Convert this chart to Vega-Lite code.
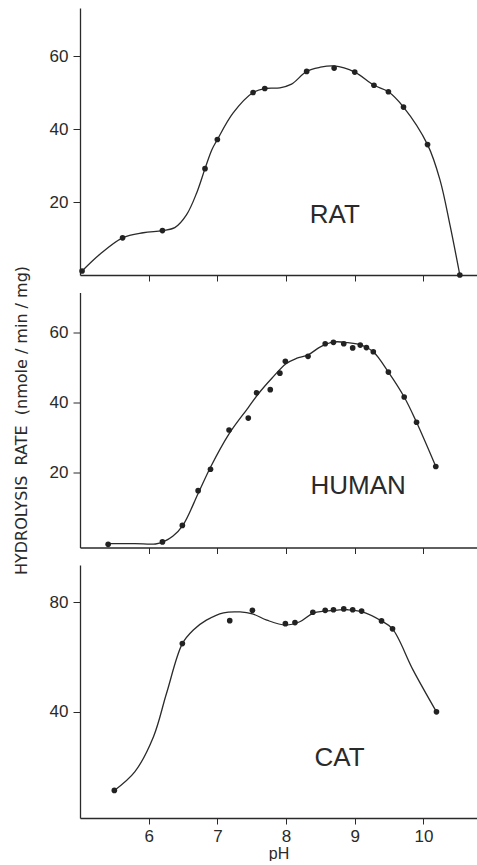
{
  "$schema": "https://vega.github.io/schema/vega-lite/v6.json",
  "padding": {"left": 12, "top": 8, "right": 0, "bottom": 0},
  "spacing": 17.5,
  "bounds": "flush",
  "config": {
    "view": {"stroke": null},
    "axis": {
      "grid": false,
      "domainColor": "#2a2a2a",
      "domainWidth": 1.3,
      "tickColor": "#2a2a2a",
      "tickWidth": 1,
      "labelFont": "Liberation Sans",
      "labelFontSize": 17,
      "labelColor": "#2a2a2a",
      "titleFont": "DejaVu Sans",
      "titleFontWeight": "normal",
      "titleColor": "#2a2a2a"
    }
  },
  "datasets": {
    "ratPts": [
      {"pH": 5.03, "rate": 1.1}, {"pH": 5.62, "rate": 10.2}, {"pH": 6.2, "rate": 12.2},
      {"pH": 6.82, "rate": 29.2}, {"pH": 7.0, "rate": 37.2}, {"pH": 7.52, "rate": 50.1},
      {"pH": 7.69, "rate": 51.2}, {"pH": 8.3, "rate": 55.9}, {"pH": 8.7, "rate": 56.8},
      {"pH": 9.0, "rate": 55.7}, {"pH": 9.28, "rate": 52.1}, {"pH": 9.49, "rate": 50.3},
      {"pH": 9.71, "rate": 46.1}, {"pH": 10.06, "rate": 35.8}, {"pH": 10.53, "rate": 0}
    ],
    "ratCurve": [
      {"pH": 5.03, "rate": 1.1}, {"pH": 5.29, "rate": 5.7}, {"pH": 5.62, "rate": 10.2},
      {"pH": 5.92, "rate": 11.6}, {"pH": 6.2, "rate": 12.2}, {"pH": 6.38, "rate": 13.0},
      {"pH": 6.55, "rate": 16.5}, {"pH": 6.7, "rate": 22.6}, {"pH": 6.82, "rate": 29.2},
      {"pH": 6.92, "rate": 34.4}, {"pH": 7.0, "rate": 37.2}, {"pH": 7.23, "rate": 44.5},
      {"pH": 7.52, "rate": 50.1}, {"pH": 7.69, "rate": 51.2}, {"pH": 7.91, "rate": 51.4},
      {"pH": 8.08, "rate": 52.4}, {"pH": 8.3, "rate": 55.9}, {"pH": 8.49, "rate": 57.0},
      {"pH": 8.7, "rate": 57.4}, {"pH": 9.0, "rate": 55.7}, {"pH": 9.28, "rate": 52.1},
      {"pH": 9.49, "rate": 50.3}, {"pH": 9.71, "rate": 46.1}, {"pH": 10.06, "rate": 35.8},
      {"pH": 10.24, "rate": 26.2}, {"pH": 10.39, "rate": 13.4}, {"pH": 10.53, "rate": 0}
    ],
    "humanPts": [
      {"pH": 5.41, "rate": -0.5}, {"pH": 6.2, "rate": 0.2}, {"pH": 6.49, "rate": 4.9},
      {"pH": 6.72, "rate": 14.8}, {"pH": 6.9, "rate": 20.9}, {"pH": 7.17, "rate": 32.1},
      {"pH": 7.45, "rate": 35.5}, {"pH": 7.57, "rate": 42.7}, {"pH": 7.77, "rate": 43.6},
      {"pH": 7.91, "rate": 48.3}, {"pH": 7.99, "rate": 51.7}, {"pH": 8.32, "rate": 53.1},
      {"pH": 8.57, "rate": 56.7}, {"pH": 8.69, "rate": 57.1}, {"pH": 8.84, "rate": 56.7},
      {"pH": 8.97, "rate": 55.5}, {"pH": 9.08, "rate": 56.3}, {"pH": 9.17, "rate": 55.6},
      {"pH": 9.27, "rate": 54.4}, {"pH": 9.49, "rate": 48.6}, {"pH": 9.72, "rate": 41.5},
      {"pH": 9.9, "rate": 34.3}, {"pH": 10.18, "rate": 21.7}
    ],
    "humanCurve": [
      {"pH": 5.41, "rate": -0.3}, {"pH": 5.8, "rate": -0.3}, {"pH": 6.1, "rate": -0.4},
      {"pH": 6.22, "rate": 0.3}, {"pH": 6.35, "rate": 1.8}, {"pH": 6.5, "rate": 5.0},
      {"pH": 6.72, "rate": 14.0}, {"pH": 6.9, "rate": 21.5}, {"pH": 7.17, "rate": 31.0},
      {"pH": 7.45, "rate": 38.5}, {"pH": 7.6, "rate": 42.5}, {"pH": 7.8, "rate": 47.0},
      {"pH": 8.0, "rate": 51.0}, {"pH": 8.15, "rate": 52.5}, {"pH": 8.32, "rate": 53.5},
      {"pH": 8.5, "rate": 55.8}, {"pH": 8.7, "rate": 57.2}, {"pH": 8.9, "rate": 57.0},
      {"pH": 9.1, "rate": 56.3}, {"pH": 9.27, "rate": 54.4}, {"pH": 9.49, "rate": 48.6},
      {"pH": 9.72, "rate": 41.5}, {"pH": 9.9, "rate": 34.3}, {"pH": 10.18, "rate": 21.7}
    ],
    "catPts": [
      {"pH": 5.5, "rate": 11.1}, {"pH": 6.49, "rate": 64.9}, {"pH": 7.18, "rate": 73.3},
      {"pH": 7.51, "rate": 77.1}, {"pH": 7.99, "rate": 72.2}, {"pH": 8.13, "rate": 72.6},
      {"pH": 8.39, "rate": 76.4}, {"pH": 8.57, "rate": 77.1}, {"pH": 8.69, "rate": 77.3},
      {"pH": 8.84, "rate": 77.6}, {"pH": 8.97, "rate": 77.3}, {"pH": 9.1, "rate": 76.8},
      {"pH": 9.39, "rate": 73.2}, {"pH": 9.55, "rate": 70.3}, {"pH": 10.19, "rate": 39.9}
    ],
    "catCurve": [
      {"pH": 5.5, "rate": 11.1}, {"pH": 5.8, "rate": 18.0}, {"pH": 6.07, "rate": 30.8},
      {"pH": 6.26, "rate": 46.7}, {"pH": 6.49, "rate": 64.9}, {"pH": 6.65, "rate": 69.9},
      {"pH": 6.84, "rate": 73.5}, {"pH": 7.09, "rate": 76.2}, {"pH": 7.33, "rate": 76.5},
      {"pH": 7.51, "rate": 75.8}, {"pH": 7.72, "rate": 73.5}, {"pH": 7.99, "rate": 71.7},
      {"pH": 8.2, "rate": 72.9}, {"pH": 8.39, "rate": 76.0}, {"pH": 8.57, "rate": 76.8},
      {"pH": 8.75, "rate": 77.2}, {"pH": 8.9, "rate": 77.3}, {"pH": 9.1, "rate": 76.6},
      {"pH": 9.39, "rate": 73.2}, {"pH": 9.55, "rate": 70.3}, {"pH": 9.85, "rate": 55.2},
      {"pH": 10.19, "rate": 39.9}
    ]
  },
  "vconcat": [
    {
      "width": 397,
      "height": 267,
      "layer": [
        {
          "data": {"name": "ratCurve"},
          "mark": {"type": "line", "interpolate": "catmull-rom", "color": "#2a2a2a", "strokeWidth": 1.3},
          "encoding": {
            "x": {"field": "pH", "type": "quantitative", "scale": {"domain": [5, 10.78], "nice": false, "zero": false},
                  "axis": {"values": [6, 7, 8, 9, 10], "labels": false, "title": null, "tickSize": 6}},
            "y": {"field": "rate", "type": "quantitative", "scale": {"domain": [0, 73.3], "nice": false, "zero": false},
                  "axis": {"values": [20, 40, 60], "title": null, "tickSize": 7, "labelPadding": 5, "minExtent": 34, "maxExtent": 34}}
          }
        },
        {
          "data": {"name": "ratPts"},
          "mark": {"type": "point", "filled": true, "color": "#222222", "size": 32, "opacity": 1},
          "encoding": {
            "x": {"field": "pH", "type": "quantitative"},
            "y": {"field": "rate", "type": "quantitative"}
          }
        },
        {
          "data": {"values": [{"label": "RAT"}]},
          "mark": {"type": "text", "font": "Liberation Sans", "fontSize": 26, "color": "#2a2a2a", "baseline": "middle", "align": "center"},
          "encoding": {
            "text": {"field": "label"},
            "x": {"datum": 8.71, "type": "quantitative"},
            "y": {"datum": 16.6, "type": "quantitative"}
          }
        }
      ]
    },
    {
      "width": 397,
      "height": 255,
      "layer": [
        {
          "data": {"name": "humanCurve"},
          "mark": {"type": "line", "interpolate": "catmull-rom", "color": "#2a2a2a", "strokeWidth": 1.3},
          "encoding": {
            "x": {"field": "pH", "type": "quantitative", "scale": {"domain": [5, 10.78], "nice": false, "zero": false},
                  "axis": {"values": [6, 7, 8, 9, 10], "labels": false, "title": null, "tickSize": 6}},
            "y": {"field": "rate", "type": "quantitative", "scale": {"domain": [-1.4, 71.3], "nice": false, "zero": false},
                  "axis": {"values": [20, 40, 60], "title": "HYDROLYSIS\u00a0\u00a0RATE\u00a0\u00a0(nmole / min / mg)", "titleFontSize": 16, "titlePadding": 17, "tickSize": 7, "labelPadding": 5, "minExtent": 34, "maxExtent": 34}}
          }
        },
        {
          "data": {"name": "humanPts"},
          "mark": {"type": "point", "filled": true, "color": "#222222", "size": 32, "opacity": 1},
          "encoding": {
            "x": {"field": "pH", "type": "quantitative"},
            "y": {"field": "rate", "type": "quantitative"}
          }
        },
        {
          "data": {"values": [{"label": "HUMAN"}]},
          "mark": {"type": "text", "font": "Liberation Sans", "fontSize": 26, "color": "#2a2a2a", "baseline": "middle", "align": "center"},
          "encoding": {
            "text": {"field": "label"},
            "x": {"datum": 9.05, "type": "quantitative"},
            "y": {"datum": 16.0, "type": "quantitative"}
          }
        }
      ]
    },
    {
      "width": 397,
      "height": 253,
      "layer": [
        {
          "data": {"name": "catCurve"},
          "mark": {"type": "line", "interpolate": "catmull-rom", "color": "#2a2a2a", "strokeWidth": 1.3},
          "encoding": {
            "x": {"field": "pH", "type": "quantitative", "scale": {"domain": [5, 10.78], "nice": false, "zero": false},
                  "axis": {"values": [6, 7, 8, 9, 10], "format": "d", "title": "pH", "titleFont": "Liberation Sans", "titleFontSize": 16, "titlePadding": 1, "tickSize": 6, "labelPadding": 4}},
            "y": {"field": "rate", "type": "quantitative", "scale": {"domain": [1, 93.7], "nice": false, "zero": false},
                  "axis": {"values": [40, 80], "title": null, "tickSize": 7, "labelPadding": 5, "minExtent": 34, "maxExtent": 34}}
          }
        },
        {
          "data": {"name": "catPts"},
          "mark": {"type": "point", "filled": true, "color": "#222222", "size": 32, "opacity": 1},
          "encoding": {
            "x": {"field": "pH", "type": "quantitative"},
            "y": {"field": "rate", "type": "quantitative"}
          }
        },
        {
          "data": {"values": [{"label": "CAT"}]},
          "mark": {"type": "text", "font": "Liberation Sans", "fontSize": 26, "color": "#2a2a2a", "baseline": "middle", "align": "center"},
          "encoding": {
            "text": {"field": "label"},
            "x": {"datum": 8.78, "type": "quantitative"},
            "y": {"datum": 23.0, "type": "quantitative"}
          }
        }
      ]
    }
  ]
}
